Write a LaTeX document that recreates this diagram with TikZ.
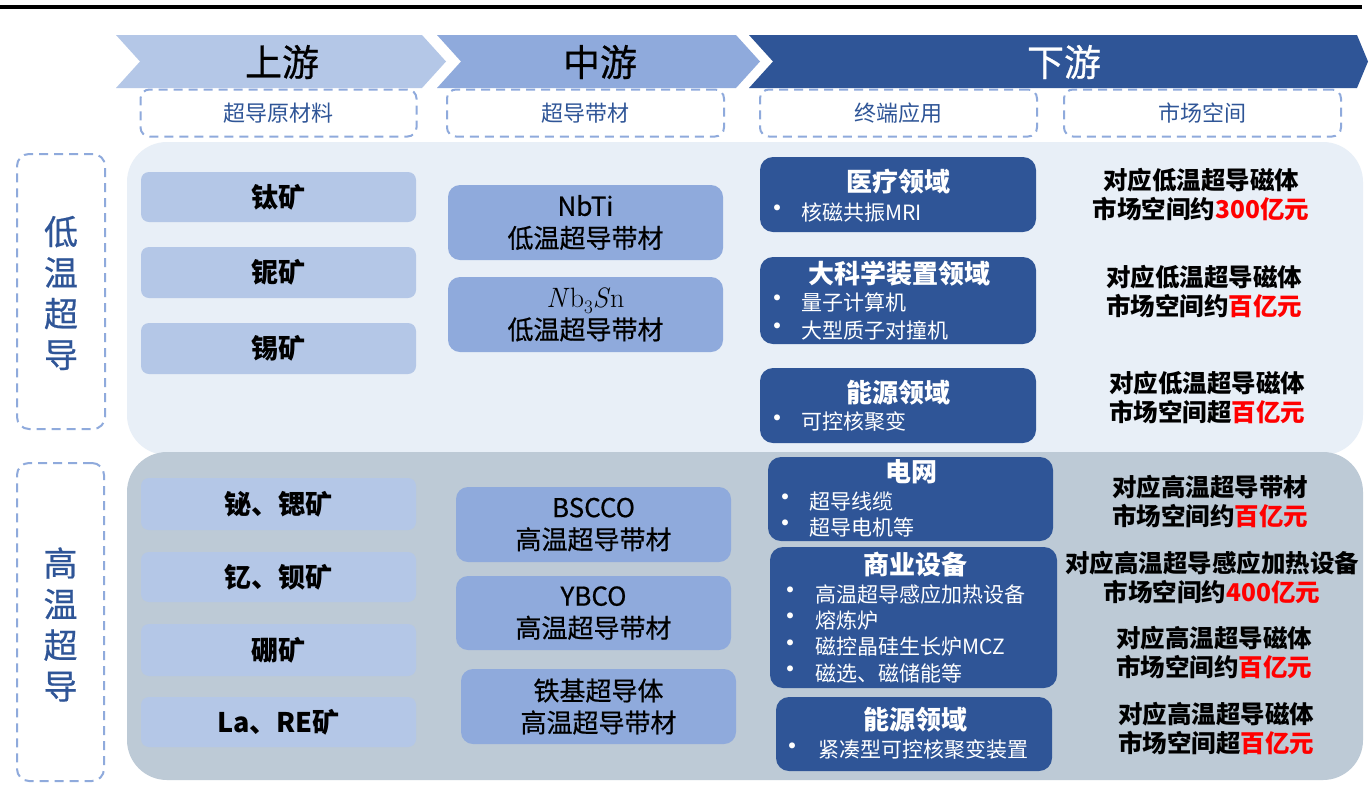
\RequirePackage{fix-cm}
\documentclass[tikz,border=0pt]{standalone}
\usepackage{fontspec}
\setmainfont{Noto Sans CJK SC}
\newfontfamily\cjkmed{Noto Sans CJK SC}[FakeBold=0.6]
\newfontfamily\lmr{Latin Modern Roman}
\definecolor{upc}{HTML}{B4C7E7}
\definecolor{midc}{HTML}{8FAADC}
\definecolor{downc}{HTML}{2F5597}
\definecolor{lowbg}{HTML}{E8EFF7}
\definecolor{highbg}{HTML}{BDCAD6}
\definecolor{dashc}{HTML}{8FAADC}
\definecolor{labc}{HTML}{2F5597}
\definecolor{redc}{HTML}{FF0000}
\newcommand{\fsz}[2]{\fontsize{#1}{#2}\selectfont}
\newcommand{\rd}[1]{\textcolor{redc}{#1}}
\newcommand{\nbsn}{{\lmr\fsz{28}{32}\textit{N}b\raisebox{-0.22em}{\fsz{19}{19}3}\textit{S}n}}
\tikzset{
  chevtext/.style={inner sep=0pt, font=\cjkmed\fsz{37}{40}},
  hdash/.style={draw=dashc, dash pattern=on 9pt off 6pt, line width=2pt, rounded corners=9pt, inner sep=0pt, text=labc, font=\fsz{22}{26}},
  sidedash/.style={draw=dashc, dash pattern=on 9pt off 6pt, line width=2pt, rounded corners=12pt, inner sep=0pt},
  sidetext/.style={inner sep=0pt, align=center, text=labc, font=\cjkmed\fsz{34}{41}},
  panel/.style={rounded corners=40pt, inner sep=0pt},
  upbox/.style={fill=upc, rounded corners=8pt, inner sep=0pt, minimum width=275pt, font=\fsz{27}{30}\bfseries},
  midbox/.style={fill=midc, rounded corners=12pt, inner sep=0pt, align=center, font=\cjkmed\fsz{26}{32}},
  downbox/.style={fill=downc, rounded corners=13pt, inner sep=0pt},
  dtitle/.style={inner sep=0pt, text=white, font=\fsz{26}{30}\bfseries},
  bul/.style={inner sep=0pt, text=white, font=\fsz{28}{30}},
  item/.style={inner sep=0pt, anchor=west, text=white, font=\fsz{21}{25}},
  market/.style={inner sep=0pt, align=center, font=\fsz{24.5}{29}\bfseries}
}
\begin{document}
\begin{tikzpicture}[x=1pt,y=-1pt]
\useasboundingbox (0,0) rectangle (1370,796);
\fill[white] (0,0) rectangle (1370,796);
% top rule
\draw[line width=4pt] (0,7) -- (1362,7);
% chevrons
\fill[upc] (116,35) -- (422,35) -- (446,61.5) -- (422,88) -- (116,88) -- (140,61.5) -- cycle;
\fill[midc] (437,35) -- (736,35) -- (760,61.5) -- (736,88) -- (437,88) -- (461,61.5) -- cycle;
\fill[downc] (749,35) -- (1357,35) -- (1368,61.5) -- (1357,88) -- (749,88) -- (773,61.5) -- cycle;
\node[chevtext] (hup) at (282,62) {上游};
\node[chevtext] (hmid) at (600,62) {中游};
\node[chevtext, text=white] (hdown) at (1064,62) {下游};
% header dashed labels
\node[hdash, minimum width=276pt, minimum height=47pt] (l1) at (278.5,113) {超导原材料};
\node[hdash, minimum width=277pt, minimum height=47pt] (l2) at (585.5,113) {超导带材};
\node[hdash, minimum width=277pt, minimum height=47pt] (l3) at (898.5,113) {终端应用};
\node[hdash, minimum width=277pt, minimum height=47pt] (l4) at (1202.5,113) {市场空间};
% side labels
\node[sidedash, minimum width=88pt, minimum height=275pt] (sl) at (61,291.5) {};
\node[sidetext] (slt) at (61,293) {低\\温\\超\\导};
\node[sidedash, minimum width=87pt, minimum height=318pt] (sh) at (60.5,622) {};
\node[sidetext] (sht) at (60.5,624.5) {高\\温\\超\\导};
% panels
\node[panel, fill=lowbg, minimum width=1236pt, minimum height=313pt] (lowp) at (745,298.5) {};
\node[panel, fill=highbg, minimum width=1236pt, minimum height=328pt] (highp) at (745,616) {};
% upstream low
\node[upbox, minimum height=50pt] (u1) at (278.5,197) {钛矿};
\node[upbox, minimum height=51pt] (u2) at (278.5,272.5) {铌矿};
\node[upbox, minimum height=51pt] (u3) at (278.5,348.5) {锡矿};
% upstream high
\node[upbox, minimum height=52pt] (u4) at (278.5,504) {铋、锶矿};
\node[upbox, minimum height=50pt] (u5) at (278.5,577) {钇、钡矿};
\node[upbox, minimum height=52pt] (u6) at (278.5,650) {硼矿};
\node[upbox, minimum height=50pt] (u7) at (278.5,722) {La、RE矿};
% midstream
\node[midbox, minimum width=275pt, minimum height=75pt] (m1) at (585.5,222.5) {NbTi\\低温超导带材};
\node[midbox, minimum width=275pt, minimum height=75pt] (m2) at (585.5,314.5) {\nbsn\\低温超导带材};
\node[midbox, minimum width=275pt, minimum height=75pt] (m3) at (593.5,524.5) {BSCCO\\高温超导带材};
\node[midbox, minimum width=275pt, minimum height=74pt] (m4) at (593.5,613) {YBCO\\高温超导带材};
\node[midbox, minimum width=275pt, minimum height=75pt] (m5) at (598.5,706.5) {铁基超导体\\高温超导带材};
% downstream low
\node[downbox, minimum width=276pt, minimum height=75pt] (d1) at (898,194.5) {};
\node[dtitle] (d1t) at (898,182) {医疗领域};
\node[bul] (d1b1) at (777,212) {•};
\node[item] (d1i1) at (801,212) {核磁共振MRI};
\node[downbox, minimum width=276pt, minimum height=87pt] (d2) at (898,300.5) {};
\node[dtitle] (d2t) at (899,274) {大科学装置领域};
\node[bul] (d2b1) at (777,302) {•};
\node[item] (d2i1) at (801,302) {量子计算机};
\node[bul] (d2b2) at (777,330) {•};
\node[item] (d2i2) at (801,330) {大型质子对撞机};
\node[downbox, minimum width=276pt, minimum height=75pt] (d3) at (898,405.5) {};
\node[dtitle] (d3t) at (898,393) {能源领域};
\node[bul] (d3b1) at (777,422) {•};
\node[item] (d3i1) at (801,422) {可控核聚变};
% downstream high
\node[downbox, minimum width=285pt, minimum height=84pt] (d4) at (910.5,499) {};
\node[dtitle] (d4t) at (911,472) {电网};
\node[bul] (d4b1) at (785,501) {•};
\node[item] (d4i1) at (809,501) {超导线缆};
\node[bul] (d4b2) at (785,527) {•};
\node[item] (d4i2) at (809,527) {超导电机等};
\node[downbox, minimum width=287pt, minimum height=141pt] (d5) at (913.5,617.5) {};
\node[dtitle] (d5t) at (915,565) {商业设备};
\node[bul] (d5b1) at (790,594) {•};
\node[item] (d5i1) at (815,594) {高温超导感应加热设备};
\node[bul] (d5b2) at (790,620) {•};
\node[item] (d5i2) at (815,620) {熔炼炉};
\node[bul] (d5b3) at (790,647) {•};
\node[item] (d5i3) at (815,647) {磁控晶硅生长炉MCZ};
\node[bul] (d5b4) at (790,673) {•};
\node[item] (d5i4) at (815,673) {磁选、磁储能等};
\node[downbox, minimum width=276pt, minimum height=74pt] (d6) at (914,734) {};
\node[dtitle] (d6t) at (915,720) {能源领域};
\node[bul] (d6b1) at (792,750) {•};
\node[item] (d6i1) at (818,750) {紧凑型可控核聚变装置};
% market
\node[market] (k1) at (1201,194) {对应低温超导磁体\\市场空间约\rd{300亿元}};
\node[market] (k2) at (1204,291) {对应低温超导磁体\\市场空间约\rd{百亿元}};
\node[market] (k3) at (1207,397) {对应低温超导磁体\\市场空间超\rd{百亿元}};
\node[market] (k4) at (1210,501) {对应高温超导带材\\市场空间约\rd{百亿元}};
\node[market] (k5) at (1212,577) {对应高温超导感应加热设备\\市场空间约\rd{400亿元}};
\node[market] (k6) at (1214,652) {对应高温超导磁体\\市场空间约\rd{百亿元}};
\node[market] (k7) at (1216,728) {对应高温超导磁体\\市场空间超\rd{百亿元}};
\end{tikzpicture}
\end{document}
